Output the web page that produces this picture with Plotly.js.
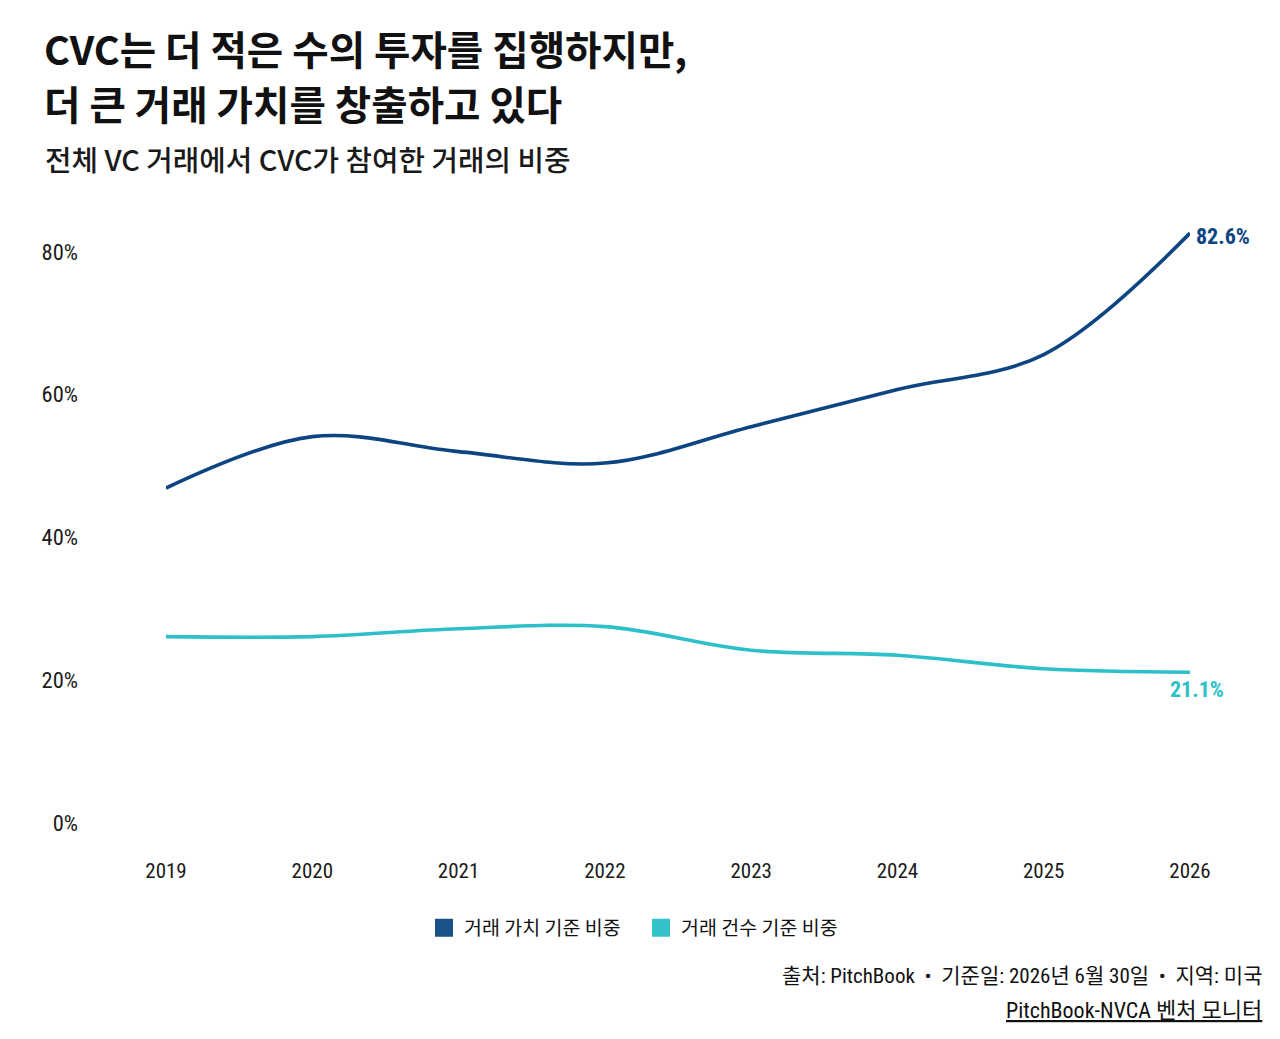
<!DOCTYPE html>
<html>
<head>
<meta charset="utf-8">
<script src="https://cdn.plot.ly/plotly-3.0.1.min.js"></script>
<style>
  html, body { margin: 0; padding: 0; background: #ffffff; }
  #chart { width: 1280px; height: 1039px; }
</style>
</head>
<body>
<div id="chart"></div>
<script>
// ------------------------------------------------------------
// CVC share of US VC deals — value vs count
// ------------------------------------------------------------

const years = [2019, 2020, 2021, 2022, 2023, 2024, 2025, 2026];
const valueShare = [46.9, 54.1, 52.0, 50.4, 55.5, 60.7, 65.6, 82.6];
const countShare = [26.1, 26.1, 27.2, 27.5, 24.2, 23.5, 21.6, 21.1];
const seriesNames = ['거래 가치 기준 비중', '거래 건수 기준 비중'];
const yTickVals = [0, 20, 40, 60, 80];
const yTickText = ['0%', '20%', '40%', '60%', '80%'];

const titleLines = ['CVC는 더 적은 수의 투자를 집행하지만,', '더 큰 거래 가치를 창출하고 있다'];
const subtitle = '전체 VC 거래에서 CVC가 참여한 거래의 비중';
const sourceLine = '출처: PitchBook  •  기준일: 2026년 6월 30일  •  지역: 미국';
const linkLine = 'PitchBook-NVCA 벤처 모니터';

const COLORS = {
  value: '#0c4581',
  valueKey: '#1d5189',
  count: '#2ec0c8',
  countKey: '#33c3c9',
  text: '#111111'
};

const KR = '"Noto Sans CJK KR", "Noto Sans", sans-serif';
const NARROW = '"Roboto Condensed", "Liberation Sans Narrow", "DejaVu Sans Condensed", "Noto Sans CJK KR", sans-serif';

// plot area in pixels, used to place free text
const PLOT = { left: 166, right: 1190, top: 216, bottom: 823 };
const px = x => (x - PLOT.left) / (PLOT.right - PLOT.left);
const py = y => (PLOT.bottom - y) / (PLOT.bottom - PLOT.top);

const last = years.length - 1;

const traces = [
  {
    x: years, y: valueShare,
    mode: 'lines', name: seriesNames[0],
    line: { color: COLORS.value, width: 3.6, shape: 'spline', smoothing: 1 },
    cliponaxis: false, showlegend: false, hoverinfo: 'skip'
  },
  {
    x: years, y: countShare,
    mode: 'lines', name: seriesNames[1],
    line: { color: COLORS.count, width: 3.6, shape: 'spline', smoothing: 1 },
    cliponaxis: false, showlegend: false, hoverinfo: 'skip'
  },
  // legend keys (square swatches)
  {
    x: [null], y: [null], mode: 'markers', name: seriesNames[0],
    marker: { symbol: 'square', size: 16, color: COLORS.valueKey,
              line: { color: COLORS.valueKey, width: 2 } }
  },
  {
    x: [null], y: [null], mode: 'markers', name: seriesNames[1],
    marker: { symbol: 'square', size: 16, color: COLORS.countKey,
              line: { color: COLORS.countKey, width: 2 } }
  }
];

const annotations = [
  {
    text: '<b>' + titleLines[0] + '</b>', xref: 'paper', yref: 'paper',
    x: px(42), y: py(47), xanchor: 'left', yanchor: 'middle', showarrow: false,
    font: { family: KR, size: 39.6, color: COLORS.text }
  },
  {
    text: '<b>' + titleLines[1] + '</b>', xref: 'paper', yref: 'paper',
    x: px(42), y: py(102), xanchor: 'left', yanchor: 'middle', showarrow: false,
    font: { family: KR, size: 39.6, color: COLORS.text }
  },
  {
    text: subtitle, xref: 'paper', yref: 'paper',
    x: px(43), y: py(158), xanchor: 'left', yanchor: 'middle', showarrow: false,
    font: { family: KR, size: 28.8, color: '#1a1a1a', weight: 500 }
  },
  // end labels
  {
    text: '<b>' + valueShare[last].toFixed(1) + '%</b>', x: years[last], y: valueShare[last],
    xanchor: 'left', yanchor: 'middle', xshift: 4, yshift: -3, showarrow: false,
    font: { family: NARROW, size: 22, color: COLORS.value }
  },
  {
    text: '<b>' + countShare[last].toFixed(1) + '%</b>', x: years[last], y: countShare[last],
    xanchor: 'center', yanchor: 'middle', xshift: 7, yshift: -17, showarrow: false,
    font: { family: NARROW, size: 22, color: COLORS.count }
  },
  // footer
  {
    text: sourceLine, xref: 'paper', yref: 'paper',
    x: px(1264), y: py(976), xanchor: 'right', yanchor: 'middle', showarrow: false,
    font: { family: NARROW, size: 21, color: COLORS.text }
  },
  {
    text: '<u>' + linkLine + '</u>', xref: 'paper', yref: 'paper',
    x: px(1264), y: py(1010), xanchor: 'right', yanchor: 'middle', showarrow: false,
    font: { family: NARROW, size: 22, color: COLORS.text }
  }
];

const layout = {
  width: 1280, height: 1039,
  margin: { l: PLOT.left, r: 1280 - PLOT.right, t: PLOT.top, b: 1039 - PLOT.bottom, pad: 0 },
  paper_bgcolor: '#ffffff',
  plot_bgcolor: '#ffffff',
  font: { family: NARROW, color: COLORS.text, size: 20 },
  xaxis: {
    range: [years[0], years[last]],
    tickvals: years, ticktext: years.map(String),
    showgrid: false, zeroline: false, showline: false, ticks: '',
    ticklabelstandoff: 33,
    tickfont: { family: NARROW, size: 21, color: '#1a1a1a' }
  },
  yaxis: {
    range: [0, 85],
    tickvals: yTickVals, ticktext: yTickText,
    showgrid: false, zeroline: false, showline: false, ticks: '',
    ticklabelstandoff: 87,
    tickfont: { family: NARROW, size: 22.5, color: '#1a1a1a' }
  },
  showlegend: true,
  legend: {
    orientation: 'h', xref: 'paper', yref: 'paper',
    x: px(424), y: py(928), xanchor: 'left', yanchor: 'middle',
    font: { family: KR, size: 19.5, color: COLORS.text },
    itemsizing: 'trace', entrywidth: 172, entrywidthmode: 'pixels',
    bgcolor: 'rgba(0,0,0,0)', tracegroupgap: 0
  },
  annotations: annotations
};

Plotly.newPlot('chart', traces, layout, { displayModeBar: false, staticPlot: true });
</script>
</body>
</html>
